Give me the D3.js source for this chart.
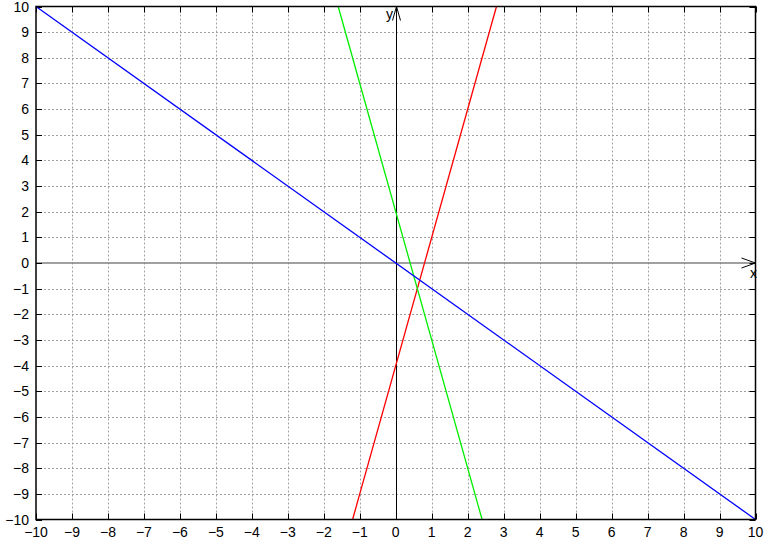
<!DOCTYPE html>
<html><head><meta charset="utf-8">
<script src="https://cdn.jsdelivr.net/npm/d3@7"></script>
<style>body{margin:0;background:#fff}svg{display:block}text{font-family:"Liberation Sans",Arial,sans-serif;font-size:14px}</style>
</head><body>
<svg id="c" width="766" height="542"></svg>
<script>
const xTicks = [-10,-9,-8,-7,-6,-5,-4,-3,-2,-1,0,1,2,3,4,5,6,7,8,9,10];
const yTicks = [-10,-9,-8,-7,-6,-5,-4,-3,-2,-1,0,1,2,3,4,5,6,7,8,9,10];
const lineNames = ["y=5x-4","y=-5x+2","y=-x"];
const lineColors = ["#ff0000","#00ee00","#0000ff"];
const lineX = [[-1.2, 2.8],[-1.6, 2.4],[-10, 10]];
const lineY = [[-10, 10],[10, -10],[10, -10]];

const svg = d3.select("#c");
const L=36,R=755.5,T=6.5,B=519.5;
const x = d3.scaleLinear().domain([-10,10]).range([L,R]);
const y = d3.scaleLinear().domain([-10,10]).range([B,T]);
const fmt = d => (d<0 ? "\u2212"+Math.abs(d) : String(d));

// grid
const g = svg.append("g");
g.selectAll(".gx").data(xTicks.filter(d=>d>-10&&d<10&&d!==0)).enter().append("line")
 .attr("x1",d=>Math.round(x(d))+0.5).attr("x2",d=>Math.round(x(d))+0.5).attr("y1",T).attr("y2",B)
 .attr("stroke","#a0a0a0").attr("stroke-dasharray","2,2");
g.selectAll(".gy").data(yTicks.filter(d=>d>-10&&d<10&&d!==0)).enter().append("line")
 .attr("y1",d=>Math.round(y(d))+0.5).attr("y2",d=>Math.round(y(d))+0.5).attr("x1",L).attr("x2",R)
 .attr("stroke","#a0a0a0").attr("stroke-dasharray","2,2");

// zero axes
svg.append("line").attr("x1",L).attr("x2",R).attr("y1",y(0)).attr("y2",y(0)).attr("stroke","#808080").attr("stroke-width",1.5);
svg.append("line").attr("x1",Math.round(x(0))+0.5).attr("x2",Math.round(x(0))+0.5).attr("y1",T).attr("y2",B).attr("stroke","#000");

// ticks inward
const tk = svg.append("g").attr("stroke","#000");
xTicks.forEach(d=>{const px=Math.round(x(d))+0.5;
 tk.append("line").attr("x1",px).attr("x2",px).attr("y1",B).attr("y2",B-6);
 tk.append("line").attr("x1",px).attr("x2",px).attr("y1",T).attr("y2",T+6);});
yTicks.forEach(d=>{const py=Math.round(y(d))+0.5;
 tk.append("line").attr("y1",py).attr("y2",py).attr("x1",L).attr("x2",L+6);
 tk.append("line").attr("y1",py).attr("y2",py).attr("x1",R).attr("x2",R-6);});

// data lines
const ln = d3.line().x(d=>x(d[0])).y(d=>y(d[1]));
lineNames.forEach((n,i)=>{
 const pts = lineX[i].map((v,j)=>[v,lineY[i][j]]);
 svg.append("path").attr("d",ln(pts)).attr("fill","none").attr("stroke",lineColors[i]).attr("stroke-width",1.3);
});

// border
svg.append("rect").attr("x",L).attr("y",T).attr("width",R-L).attr("height",B-T).attr("fill","none").attr("stroke","#000").attr("stroke-width",1.5);

// arrows
const x0=Math.round(x(0))+0.5, y0=y(0);
svg.append("path").attr("d",`M${R-14},${y0-5}L${R},${y0}L${R-14},${y0+5}`).attr("fill","none").attr("stroke","#000");
svg.append("path").attr("d",`M${x0-4},${T+14}L${x0},${T}L${x0+4},${T+14}`).attr("fill","none").attr("stroke","#000");
svg.append("text").attr("x",R-2).attr("y",y0+15).attr("text-anchor","middle").text("x");
svg.append("text").attr("x",x0-7).attr("y",T+12).attr("text-anchor","middle").text("y");

// tick labels
svg.selectAll(".xl").data(xTicks).enter().append("text")
 .attr("x",d=>x(d)).attr("y",537).attr("text-anchor","middle").text(fmt);
svg.selectAll(".yl").data(yTicks).enter().append("text")
 .attr("x",29).attr("y",d=>y(d)+5).attr("text-anchor","end").text(fmt);
</script>
</body></html>
